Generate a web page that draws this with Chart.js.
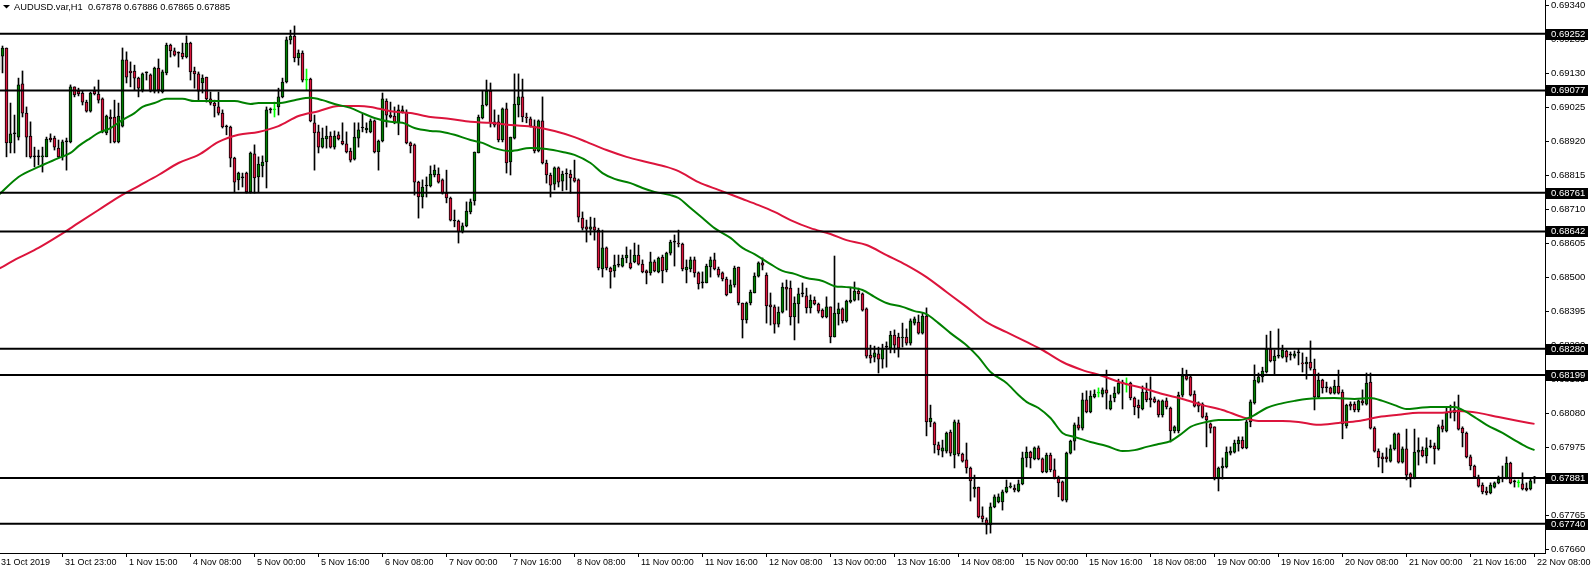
<!DOCTYPE html>
<html>
<head>
<meta charset="utf-8">
<script src="https://cdn.jsdelivr.net/npm/chart.js@4.4.1/dist/chart.umd.min.js"></script>
<style>
  html, body { margin: 0; padding: 0; background: #fff; }
  #wrap { width: 1591px; height: 570px; position: relative; }
</style>
</head>
<body>
<div id="wrap"><canvas id="chart"></canvas></div>
<script>
// ----- data (AUDUSD H1, one entry per bar, oldest first) -----
const barOpen = [
0.69140,0.69183,0.69208,0.68915,0.68943,0.68933,0.69097,0.69007,0.68936,0.68872,
0.68872,0.68872,0.68872,0.68930,0.68930,0.68899,0.68872,0.68918,0.68918,0.69088,
0.69075,0.69069,0.69041,0.69013,0.69075,0.69066,0.69051,0.68946,0.68995,0.68995,
0.68918,0.68967,0.69171,0.69137,0.69137,0.69115,0.69078,0.69131,0.69125,0.69075,
0.69146,0.69072,0.69131,0.69217,0.69199,0.69192,0.69192,0.69180,0.69223,0.69137,
0.69128,0.69100,0.69118,0.69051,0.69038,0.69026,0.69007,0.68964,0.68964,0.68868,
0.68801,0.68807,0.68822,0.68764,0.68881,0.68810,0.68844,0.68856,0.69017,0.69017,
0.69026,0.69057,0.69103,0.69233,0.69245,0.69177,0.69192,0.69109,0.69112,0.68977,
0.68949,0.68902,0.68927,0.68936,0.68902,0.68940,0.68921,0.68912,0.68890,0.68865,
0.68930,0.68961,0.68955,0.68949,0.68983,0.68887,0.68921,0.69044,0.69001,0.68998,
0.68977,0.69010,0.69010,0.68915,0.68909,0.68794,0.68748,0.68782,0.68782,0.68816,
0.68819,0.68801,0.68760,0.68745,0.68674,0.68674,0.68640,0.68659,0.68702,0.68736,
0.68884,0.68992,0.69032,0.69075,0.68980,0.68980,0.68924,0.69020,0.68856,0.68930,
0.69032,0.69057,0.68995,0.68989,0.68967,0.68890,0.68983,0.68853,0.68816,0.68788,
0.68838,0.68797,0.68819,0.68819,0.68807,0.68801,0.68683,0.68656,0.68649,0.68656,
0.68646,0.68526,0.68591,0.68529,0.68520,0.68538,0.68535,0.68560,0.68545,0.68548,
0.68569,0.68541,0.68520,0.68514,0.68548,0.68517,0.68563,0.68523,0.68575,0.68609,
0.68606,0.68603,0.68523,0.68526,0.68554,0.68514,0.68483,0.68483,0.68532,0.68554,
0.68526,0.68514,0.68495,0.68452,0.68477,0.68532,0.68421,0.68369,0.68421,0.68452,
0.68504,0.68545,0.68507,0.68415,0.68409,0.68356,0.68393,0.68470,0.68467,0.68378,
0.68418,0.68449,0.68443,0.68406,0.68430,0.68418,0.68399,0.68378,0.68409,0.68316,
0.68387,0.68403,0.68366,0.68424,0.68430,0.68458,0.68449,0.68403,0.68260,0.68254,
0.68264,0.68248,0.68285,0.68282,0.68322,0.68316,0.68313,0.68316,0.68297,0.68359,
0.68362,0.68328,0.68381,0.68054,0.68051,0.67983,0.67964,0.67964,0.68023,0.67952,
0.68051,0.67955,0.67937,0.67912,0.67847,0.67853,0.67764,0.67752,0.67736,0.67792,
0.67807,0.67807,0.67838,0.67853,0.67850,0.67841,0.67863,0.67943,0.67961,0.67940,
0.67974,0.67940,0.67900,0.67952,0.67906,0.67884,0.67869,0.67813,0.67958,0.67995,
0.68045,0.68035,0.68122,0.68085,0.68131,0.68143,0.68140,0.68153,0.68094,0.68128,
0.68143,0.68174,0.68168,0.68174,0.68128,0.68106,0.68094,0.68146,0.68128,0.68125,
0.68119,0.68076,0.68119,0.68097,0.68026,0.68026,0.68137,0.68196,0.68193,0.68140,
0.68113,0.68109,0.68072,0.68048,0.68039,0.67878,0.67912,0.67915,0.67958,0.67961,
0.67986,0.67998,0.67974,0.68054,0.68113,0.68177,0.68193,0.68208,0.68279,0.68242,
0.68257,0.68254,0.68273,0.68260,0.68257,0.68267,0.68236,0.68233,0.68239,0.68217,
0.68131,0.68183,0.68159,0.68159,0.68143,0.68165,0.68146,0.68042,0.68109,0.68109,
0.68091,0.68119,0.68109,0.68177,0.68035,0.67964,0.67946,0.67946,0.67933,0.67971,
0.68017,0.67930,0.67971,0.67894,0.67881,0.67961,0.67967,0.67949,0.67977,0.67980,
0.67971,0.68042,0.68026,0.68082,0.68082,0.68091,0.68035,0.68020,0.67946,0.67918,
0.67884,0.67859,0.67841,0.67835,0.67853,0.67866,0.67884,0.67881,0.67927,0.67869,
0.67866,0.67863,0.67850,0.67847,0.67878
];
const barHigh = [
0.69202,0.69214,0.69208,0.69038,0.69001,0.69115,0.69137,0.69026,0.68980,0.68902,
0.68893,0.68902,0.68933,0.68943,0.68936,0.68924,0.68924,0.68930,0.69094,0.69088,
0.69084,0.69075,0.69047,0.69072,0.69088,0.69109,0.69054,0.69001,0.69017,0.69047,
0.69038,0.69208,0.69196,0.69165,0.69155,0.69118,0.69131,0.69134,0.69128,0.69149,
0.69174,0.69140,0.69223,0.69220,0.69208,0.69196,0.69223,0.69245,0.69226,0.69149,
0.69134,0.69125,0.69118,0.69072,0.69047,0.69072,0.69017,0.68970,0.68967,0.68871,
0.68825,0.68822,0.68825,0.68887,0.68909,0.68872,0.68875,0.69026,0.69023,0.69041,
0.69084,0.69115,0.69242,0.69263,0.69276,0.69202,0.69199,0.69143,0.69115,0.69001,
0.68970,0.68961,0.68967,0.68949,0.68952,0.68949,0.68977,0.68949,0.68899,0.68977,
0.68977,0.69004,0.68977,0.68989,0.68986,0.68924,0.69069,0.69051,0.69041,0.69026,
0.69032,0.69029,0.69017,0.68918,0.68912,0.68797,0.68801,0.68810,0.68844,0.68847,
0.68838,0.68804,0.68831,0.68748,0.68708,0.68677,0.68668,0.68733,0.68742,0.68887,
0.69001,0.69075,0.69109,0.69100,0.69017,0.69001,0.69023,0.69038,0.68933,0.69128,
0.69128,0.69112,0.69007,0.68995,0.68986,0.68986,0.69057,0.68862,0.68822,0.68841,
0.68841,0.68828,0.68835,0.68831,0.68862,0.68804,0.68702,0.68677,0.68686,0.68683,
0.68652,0.68646,0.68594,0.68532,0.68569,0.68569,0.68569,0.68594,0.68585,0.68606,
0.68600,0.68554,0.68523,0.68578,0.68554,0.68563,0.68569,0.68578,0.68615,0.68631,
0.68646,0.68606,0.68554,0.68563,0.68563,0.68517,0.68517,0.68541,0.68563,0.68575,
0.68532,0.68517,0.68501,0.68492,0.68535,0.68532,0.68421,0.68424,0.68461,0.68514,
0.68548,0.68560,0.68514,0.68452,0.68415,0.68409,0.68483,0.68492,0.68489,0.68440,
0.68467,0.68483,0.68467,0.68446,0.68440,0.68421,0.68403,0.68440,0.68409,0.68566,
0.68421,0.68406,0.68430,0.68470,0.68486,0.68467,0.68452,0.68406,0.68291,0.68288,
0.68285,0.68294,0.68301,0.68334,0.68338,0.68328,0.68359,0.68341,0.68372,0.68378,
0.68384,0.68390,0.68406,0.68106,0.68054,0.67992,0.67998,0.68023,0.68029,0.68060,
0.68060,0.67958,0.67989,0.67915,0.67890,0.67853,0.67792,0.67758,0.67804,0.67829,
0.67832,0.67844,0.67875,0.67866,0.67860,0.67875,0.67961,0.67977,0.67964,0.67977,
0.67980,0.67943,0.67958,0.67958,0.67940,0.67887,0.67872,0.67961,0.67998,0.68051,
0.68069,0.68143,0.68150,0.68150,0.68153,0.68159,0.68159,0.68214,0.68137,0.68162,
0.68186,0.68183,0.68190,0.68177,0.68131,0.68122,0.68165,0.68174,0.68193,0.68131,
0.68122,0.68122,0.68128,0.68100,0.68042,0.68146,0.68220,0.68214,0.68196,0.68150,
0.68116,0.68113,0.68082,0.68051,0.68039,0.67915,0.67943,0.67977,0.67977,0.67998,
0.68008,0.68008,0.68060,0.68122,0.68230,0.68205,0.68223,0.68322,0.68334,0.68276,
0.68341,0.68291,0.68276,0.68270,0.68273,0.68279,0.68267,0.68254,0.68304,0.68248,
0.68205,0.68186,0.68177,0.68162,0.68183,0.68214,0.68153,0.68109,0.68116,0.68116,
0.68122,0.68153,0.68205,0.68205,0.68039,0.67971,0.67958,0.67974,0.67983,0.68020,
0.68020,0.67977,0.68032,0.67897,0.68032,0.68005,0.67977,0.68005,0.67998,0.67989,
0.68045,0.68060,0.68097,0.68106,0.68116,0.68137,0.68039,0.68023,0.67952,0.67921,
0.67890,0.67866,0.67853,0.67866,0.67869,0.67887,0.67918,0.67946,0.67930,0.67875,
0.67875,0.67897,0.67866,0.67881,0.67886
];
const barLow = [
0.69125,0.69131,0.68872,0.68884,0.68884,0.68924,0.68995,0.68872,0.68868,0.68841,
0.68847,0.68825,0.68872,0.68918,0.68893,0.68868,0.68862,0.68831,0.68915,0.69057,
0.69060,0.69032,0.69010,0.69010,0.69063,0.69038,0.68946,0.68940,0.68915,0.68915,
0.68915,0.68964,0.69100,0.69088,0.69078,0.69057,0.69072,0.69109,0.69072,0.69069,
0.69069,0.69069,0.69125,0.69180,0.69183,0.69149,0.69174,0.69177,0.69109,0.69084,
0.69047,0.69069,0.69041,0.69032,0.68995,0.69001,0.68961,0.68940,0.68841,0.68764,
0.68770,0.68779,0.68760,0.68760,0.68760,0.68764,0.68810,0.68776,0.69007,0.68995,
0.69001,0.69054,0.69100,0.69220,0.69165,0.69155,0.69103,0.69078,0.68980,0.68831,
0.68884,0.68899,0.68899,0.68899,0.68896,0.68924,0.68909,0.68884,0.68856,0.68862,
0.68902,0.68949,0.68946,0.68946,0.68884,0.68831,0.68918,0.68964,0.68992,0.68974,
0.68940,0.69007,0.68912,0.68884,0.68754,0.68683,0.68714,0.68748,0.68779,0.68810,
0.68791,0.68757,0.68730,0.68674,0.68656,0.68606,0.68637,0.68656,0.68696,0.68723,
0.68884,0.68989,0.69029,0.68964,0.68964,0.68918,0.68918,0.68822,0.68816,0.68927,
0.68995,0.68980,0.68977,0.68964,0.68884,0.68887,0.68850,0.68791,0.68748,0.68770,
0.68779,0.68767,0.68770,0.68760,0.68794,0.68671,0.68646,0.68609,0.68631,0.68615,
0.68523,0.68501,0.68523,0.68467,0.68501,0.68532,0.68532,0.68545,0.68526,0.68545,
0.68538,0.68514,0.68480,0.68507,0.68517,0.68514,0.68483,0.68517,0.68569,0.68535,
0.68594,0.68520,0.68483,0.68517,0.68501,0.68464,0.68467,0.68483,0.68501,0.68523,
0.68501,0.68489,0.68443,0.68452,0.68470,0.68415,0.68313,0.68359,0.68415,0.68452,
0.68501,0.68523,0.68359,0.68353,0.68328,0.68347,0.68390,0.68399,0.68353,0.68307,
0.68359,0.68440,0.68390,0.68390,0.68415,0.68390,0.68375,0.68375,0.68298,0.68316,
0.68353,0.68359,0.68362,0.68421,0.68427,0.68430,0.68396,0.68251,0.68236,0.68239,
0.68205,0.68220,0.68223,0.68267,0.68267,0.68254,0.68285,0.68291,0.68291,0.68353,
0.68325,0.68325,0.68011,0.68039,0.67958,0.67952,0.67946,0.67958,0.67949,0.67912,
0.67949,0.67930,0.67896,0.67810,0.67822,0.67758,0.67745,0.67708,0.67711,0.67789,
0.67804,0.67782,0.67835,0.67850,0.67838,0.67838,0.67860,0.67915,0.67912,0.67937,
0.67937,0.67897,0.67897,0.67900,0.67878,0.67823,0.67810,0.67807,0.67955,0.67967,
0.68029,0.68029,0.68082,0.68082,0.68128,0.68131,0.68131,0.68094,0.68091,0.68116,
0.68140,0.68094,0.68146,0.68122,0.68076,0.68066,0.68091,0.68116,0.68100,0.68113,
0.68069,0.68069,0.68094,0.67992,0.68020,0.68020,0.68131,0.68183,0.68134,0.68100,
0.68085,0.68066,0.67977,0.68020,0.67875,0.67841,0.67878,0.67912,0.67952,0.67958,
0.67964,0.67971,0.67971,0.68039,0.68109,0.68174,0.68177,0.68205,0.68239,0.68199,
0.68251,0.68251,0.68239,0.68245,0.68251,0.68230,0.68208,0.68186,0.68214,0.68091,
0.68128,0.68143,0.68146,0.68140,0.68140,0.68140,0.68002,0.68035,0.68091,0.68085,
0.68085,0.68106,0.68106,0.68032,0.67961,0.67915,0.67897,0.67930,0.67930,0.67967,
0.67927,0.67927,0.67875,0.67853,0.67878,0.67921,0.67946,0.67927,0.67974,0.67924,
0.67967,0.68023,0.68023,0.68066,0.68057,0.68029,0.67977,0.67943,0.67906,0.67881,
0.67853,0.67832,0.67829,0.67832,0.67850,0.67863,0.67869,0.67878,0.67863,0.67853,
0.67853,0.67844,0.67841,0.67844,0.67865
];
const barClose = [
0.69183,0.69208,0.68915,0.68943,0.68943,0.69094,0.69007,0.68933,0.68872,0.68872,
0.68872,0.68875,0.68927,0.68924,0.68902,0.68872,0.68918,0.68918,0.69088,0.69063,
0.69066,0.69041,0.69013,0.69069,0.69066,0.69047,0.68949,0.68998,0.68989,0.68918,
0.68998,0.69171,0.69118,0.69131,0.69115,0.69084,0.69128,0.69131,0.69075,0.69146,
0.69078,0.69134,0.69217,0.69199,0.69186,0.69192,0.69180,0.69223,0.69134,0.69128,
0.69075,0.69115,0.69051,0.69038,0.69029,0.69007,0.68964,0.68964,0.68868,0.68794,
0.68822,0.68807,0.68764,0.68884,0.68807,0.68850,0.68856,0.69017,0.69017,0.69017,
0.69057,0.69103,0.69233,0.69245,0.69177,0.69192,0.69109,0.69109,0.68983,0.68946,
0.68902,0.68930,0.68936,0.68902,0.68936,0.68927,0.68912,0.68887,0.68862,0.68933,
0.68955,0.68961,0.68961,0.68983,0.68887,0.68921,0.69051,0.69001,0.68995,0.68977,
0.69017,0.69017,0.68915,0.68906,0.68794,0.68748,0.68779,0.68782,0.68819,0.68831,
0.68794,0.68760,0.68745,0.68677,0.68674,0.68640,0.68659,0.68705,0.68733,0.68887,
0.68995,0.69032,0.69075,0.68977,0.68970,0.68924,0.69020,0.68853,0.68933,0.69035,
0.69057,0.68995,0.68992,0.68967,0.68890,0.68983,0.68853,0.68816,0.68785,0.68838,
0.68794,0.68819,0.68819,0.68807,0.68797,0.68686,0.68652,0.68649,0.68656,0.68646,
0.68529,0.68591,0.68529,0.68517,0.68538,0.68538,0.68560,0.68569,0.68529,0.68569,
0.68541,0.68517,0.68514,0.68548,0.68520,0.68560,0.68520,0.68575,0.68609,0.68609,
0.68603,0.68526,0.68532,0.68554,0.68514,0.68480,0.68483,0.68535,0.68554,0.68526,
0.68507,0.68495,0.68446,0.68477,0.68529,0.68421,0.68369,0.68421,0.68455,0.68504,
0.68545,0.68538,0.68412,0.68409,0.68356,0.68393,0.68470,0.68464,0.68378,0.68421,
0.68449,0.68449,0.68406,0.68430,0.68418,0.68396,0.68378,0.68409,0.68316,0.68390,
0.68403,0.68366,0.68427,0.68430,0.68458,0.68449,0.68399,0.68257,0.68251,0.68267,
0.68248,0.68282,0.68285,0.68322,0.68291,0.68282,0.68316,0.68297,0.68366,0.68372,
0.68328,0.68381,0.68054,0.68066,0.67983,0.67968,0.67974,0.68020,0.67958,0.68054,
0.67955,0.67933,0.67912,0.67872,0.67853,0.67761,0.67755,0.67736,0.67792,0.67823,
0.67823,0.67838,0.67853,0.67856,0.67844,0.67863,0.67943,0.67961,0.67943,0.67974,
0.67940,0.67900,0.67952,0.67906,0.67881,0.67866,0.67813,0.67958,0.67995,0.68045,
0.68035,0.68122,0.68085,0.68134,0.68140,0.68143,0.68153,0.68143,0.68119,0.68143,
0.68174,0.68174,0.68168,0.68128,0.68100,0.68097,0.68146,0.68122,0.68122,0.68116,
0.68076,0.68119,0.68100,0.68026,0.68039,0.68137,0.68196,0.68186,0.68137,0.68103,
0.68103,0.68069,0.68060,0.68035,0.67878,0.67912,0.67918,0.67961,0.67964,0.67989,
0.67998,0.67974,0.68054,0.68116,0.68183,0.68193,0.68211,0.68279,0.68242,0.68257,
0.68257,0.68276,0.68254,0.68260,0.68264,0.68267,0.68233,0.68239,0.68220,0.68131,
0.68183,0.68159,0.68159,0.68143,0.68165,0.68143,0.68048,0.68106,0.68103,0.68091,
0.68119,0.68113,0.68174,0.68035,0.67964,0.67943,0.67940,0.67940,0.67971,0.68017,
0.67930,0.67971,0.67890,0.67881,0.67961,0.67967,0.67949,0.67974,0.67977,0.67971,
0.68039,0.68032,0.68082,0.68082,0.68091,0.68032,0.68020,0.67946,0.67918,0.67884,
0.67856,0.67838,0.67835,0.67859,0.67866,0.67878,0.67878,0.67927,0.67866,0.67869,
0.67866,0.67847,0.67844,0.67872,0.67885
];
// bars drawn in the "bar up" lime colour (flat open/close)
const limeBars = [69, 77, 275, 282, 380];

// moving averages, read at sampled bars
const fastMaBars = [0,5,10,15,18,20,23,25,28,31,34,36,39,42,46,49,54,59,63,65,70,74,78,81,84,88,91,94,98,101,104,108,111,114,118,121,124,128,133,137,141,144,148,151,154,158,161,164,168,170,173,176,179,183,186,189,193,196,199,202,206,209,212,216,219,222,226,229,232,235,238,242,245,248,252,255,257,260,263,266,269,273,277,281,284,287,290,293,296,298,302,305,310,313,317,320,324,327,334,339,343,346,349,352,355,358,364,366,369,372,376,379,382,384];
const fastMaVals = [0.68754,0.68810,0.68841,0.68868,0.68884,0.68905,0.68930,0.68946,0.68961,0.68986,0.69007,0.69026,0.69038,0.69051,0.69051,0.69044,0.69044,0.69044,0.69035,0.69038,0.69038,0.69047,0.69054,0.69047,0.69035,0.69023,0.69007,0.68992,0.68980,0.68977,0.68961,0.68952,0.68949,0.68940,0.68924,0.68915,0.68899,0.68890,0.68899,0.68896,0.68887,0.68878,0.68853,0.68822,0.68804,0.68791,0.68776,0.68764,0.68754,0.68745,0.68714,0.68683,0.68652,0.68622,0.68591,0.68572,0.68541,0.68520,0.68511,0.68498,0.68489,0.68473,0.68470,0.68461,0.68440,0.68421,0.68409,0.68396,0.68387,0.68359,0.68328,0.68291,0.68254,0.68208,0.68174,0.68137,0.68116,0.68097,0.68066,0.68020,0.68008,0.67992,0.67980,0.67964,0.67967,0.67977,0.67986,0.67995,0.68020,0.68039,0.68054,0.68060,0.68060,0.68069,0.68097,0.68109,0.68119,0.68125,0.68128,0.68125,0.68128,0.68119,0.68106,0.68094,0.68097,0.68100,0.68100,0.68091,0.68069,0.68045,0.68020,0.67998,0.67977,0.67967];
const slowMaBars = [0,5,10,15,20,25,30,35,40,45,50,55,60,65,70,75,80,85,90,93,98,103,108,113,118,123,128,134,139,144,147,152,157,162,167,170,175,180,186,190,194,198,203,208,212,217,222,227,232,237,242,247,252,257,261,266,271,276,281,286,291,296,301,306,311,315,321,325,330,335,340,345,350,355,360,365,370,375,380,384];
const slowMaVals = [0.68526,0.68560,0.68591,0.68628,0.68668,0.68708,0.68748,0.68782,0.68816,0.68853,0.68878,0.68918,0.68940,0.68949,0.68967,0.68998,0.69013,0.69029,0.69029,0.69026,0.69013,0.69007,0.68995,0.68989,0.68980,0.68977,0.68970,0.68964,0.68952,0.68933,0.68918,0.68893,0.68872,0.68856,0.68841,0.68828,0.68794,0.68770,0.68742,0.68723,0.68702,0.68677,0.68652,0.68634,0.68615,0.68600,0.68569,0.68538,0.68501,0.68455,0.68409,0.68362,0.68331,0.68301,0.68276,0.68239,0.68214,0.68196,0.68174,0.68159,0.68140,0.68125,0.68106,0.68091,0.68069,0.68057,0.68057,0.68054,0.68045,0.68051,0.68057,0.68069,0.68076,0.68082,0.68082,0.68088,0.68082,0.68069,0.68057,0.68048];

// horizontal levels drawn on the chart
const levels = [0.69252, 0.69077, 0.68761, 0.68642, 0.68280, 0.68199, 0.67881, 0.67740];

// axes
const yTicks = [0.69340,0.69235,0.69130,0.69025,0.68920,0.68815,0.68710,0.68605,0.68500,0.68395,0.68290,0.68185,0.68080,0.67975,0.67870,0.67765,0.67660];
const yRange = [0.676496, 0.69356];
const xRange = [0.375, 386.625];
const xTickBars = [0,16,32,48,64,80,96,112,128,144,160,176,192,208,224,240,256,272,288,304,320,336,352,368,384];
const xTickLabels = ['31 Oct 2019','31 Oct 23:00','1 Nov 15:00','4 Nov 08:00','5 Nov 00:00','5 Nov 16:00','6 Nov 08:00','7 Nov 00:00','7 Nov 16:00','8 Nov 08:00','11 Nov 00:00','11 Nov 16:00','12 Nov 08:00','13 Nov 00:00','13 Nov 16:00','14 Nov 08:00','15 Nov 00:00','15 Nov 16:00','18 Nov 08:00','19 Nov 00:00','19 Nov 16:00','20 Nov 08:00','21 Nov 00:00','21 Nov 16:00','22 Nov 08:00'];
const titleText = 'AUDUSD.var,H1  0.67878 0.67886 0.67865 0.67885';

// ----- styles -----
const UP = '#008000', DOWN = '#dc143c', LIME = '#00ff00', INK = '#000';
const FAMILY = '"Liberation Sans", Arial, sans-serif';
const X_FONT = { family: FAMILY, size: 9 };
const Y_FONT = { family: FAMILY, size: 9.5 };

const idx = barOpen.map((_, i) => i);
const isLime = (i) => limeBars.includes(i);
const bodyFill = idx.map(i => isLime(i) ? LIME : barClose[i] > barOpen[i] ? UP : barClose[i] < barOpen[i] ? DOWN : INK);
const edge = idx.map(i => isLime(i) ? LIME : INK);

const levelSets = levels.map(v => ({
  type: 'line', data: [{ x: xRange[0], y: v }, { x: xRange[1], y: v }],
  borderColor: INK, borderWidth: 2, pointRadius: 0
}));

const overlay = {
  id: 'overlay',
  afterDraw(chart) {
    const { ctx, scales: { y } } = chart;
    ctx.save();
    ctx.font = `${Y_FONT.size}px ${FAMILY}`;
    ctx.textBaseline = 'middle';
    levels.forEach(v => {
      const py = Math.round(y.getPixelForValue(v));
      ctx.fillStyle = INK;
      ctx.fillRect(y.left + 1, py - 5, 42, 11);
      ctx.fillStyle = '#fff';
      ctx.fillText(v.toFixed(5), y.left + 6, py + 0.5);
    });
    // symbol caption, top-left
    ctx.fillStyle = INK;
    ctx.font = `9.3px ${FAMILY}`;
    ctx.beginPath(); ctx.moveTo(3, 5); ctx.lineTo(10, 5); ctx.lineTo(6.5, 8.5); ctx.closePath(); ctx.fill();
    ctx.fillText(titleText, 14, 7);
    ctx.restore();
  }
};

new Chart(document.getElementById('chart'), {
  type: 'bar',
  data: {
    datasets: [
      ...levelSets,
      { type: 'line', data: fastMaBars.map((b, k) => ({ x: b, y: fastMaVals[k] })), borderColor: UP, borderWidth: 2, pointRadius: 0, cubicInterpolationMode: 'monotone' },
      { type: 'line', data: slowMaBars.map((b, k) => ({ x: b, y: slowMaVals[k] })), borderColor: DOWN, borderWidth: 2, pointRadius: 0, cubicInterpolationMode: 'monotone' },
      { type: 'bar', data: idx.map(i => ({ x: i, y: [barOpen[i], barClose[i]] })), backgroundColor: bodyFill, borderColor: edge,
        borderWidth: 1, borderSkipped: false, barThickness: 3, minBarLength: 1, grouped: false },
      { type: 'bar', data: idx.map(i => ({ x: i, y: [barLow[i], barHigh[i]] })), backgroundColor: edge,
        borderWidth: 0, barThickness: 1, grouped: false }
    ]
  },
  options: {
    responsive: true, maintainAspectRatio: false, animation: false, events: [],
    layout: { padding: 0 },
    plugins: { legend: { display: false }, tooltip: { enabled: false }, title: { display: false } },
    scales: {
      x: {
        type: 'linear', min: xRange[0], max: xRange[1], offset: false,
        afterBuildTicks: s => { s.ticks = xTickBars.map(v => ({ value: v })); },
        afterFit: s => { s.height = 17; s.paddingLeft = 0; s.paddingRight = 0; },
        ticks: { align: 'start', autoSkip: false, maxRotation: 0, minRotation: 0, padding: 0, color: INK, font: X_FONT,
                 callback: (v, i) => ' ' + xTickLabels[i] },
        grid: { drawOnChartArea: false, tickLength: 4, color: INK, offset: false },
        border: { color: INK, width: 1 }
      },
      y: {
        type: 'linear', position: 'right', min: yRange[0], max: yRange[1],
        afterBuildTicks: s => { s.ticks = yTicks.map(v => ({ value: v })); },
        afterFit: s => { s.width = 46; s.paddingTop = 0; s.paddingBottom = 0; },
        ticks: { autoSkip: false, padding: 2, color: INK, font: Y_FONT, callback: v => v.toFixed(5) },
        grid: { drawOnChartArea: false, tickLength: 4, color: INK },
        border: { color: INK, width: 1 }
      }
    }
  },
  plugins: [overlay]
});
</script>
</body>
</html>
